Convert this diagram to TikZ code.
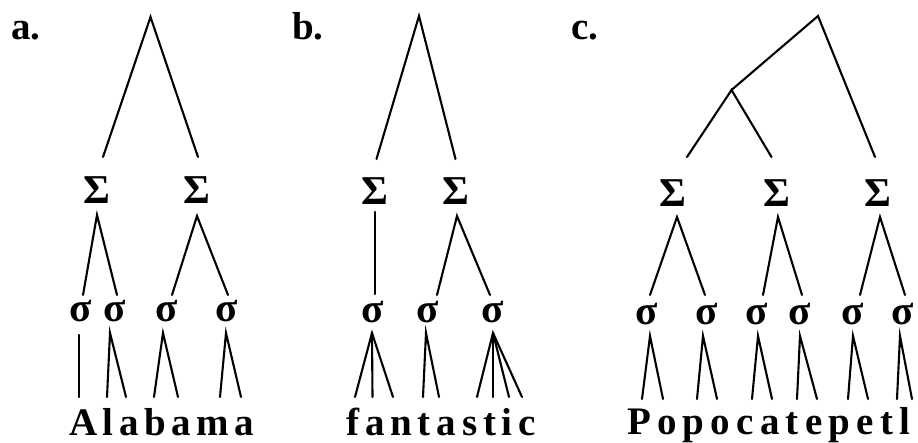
\documentclass[tikz,border=0pt]{standalone}
\usepackage{fontspec}
\setmainfont{Liberation Serif}
\newfontfamily\treefont{Liberation Serif}
\tikzset{
  br/.style={line width=2.1pt, line cap=round, line join=miter},
  sig/.style={inner sep=0pt, font=\treefont\fontsize{41}{41}\selectfont\bfseries},
  lab/.style={anchor=base west, inner sep=0pt, font=\treefont\fontsize{39}{39}\selectfont\bfseries},
  word/.style={anchor=base west, inner sep=0pt, font=\treefont\fontsize{39}{39}\selectfont\bfseries}
}
\begin{document}
\begin{tikzpicture}[x=1pt,y=-1pt]
\useasboundingbox (0,0) rectangle (918,443);
% ================= panel a =================
\node[lab] (la) at (11,40) {a.};
\coordinate (a0) at (150.5,17);
\node[sig] (aS1) at (97,190) {Σ};
\node[sig] (aS2) at (197,190) {Σ};
\coordinate (aS1n) at (103,157);
\coordinate (aS2n) at (198,157);
\draw[br] (aS1n) -- (a0) -- (aS2n);
\node[sig] (as1) at (81,311) {σ};
\node[sig] (as2) at (115,311) {σ};
\node[sig] (as3) at (167,311) {σ};
\node[sig] (as4) at (227,311) {σ};
\coordinate (aS1s) at (97,215);
\coordinate (aS2s) at (197,216);
\coordinate (as1n) at (83,295);
\coordinate (as2n) at (117,295);
\coordinate (as3n) at (172,295);
\coordinate (as4n) at (228,295);
\draw[br] (as1n) -- (aS1s) -- (as2n);
\draw[br] (as3n) -- (aS2s) -- (as4n);
\coordinate (as1s) at (79,335);
\coordinate (as2s) at (110,333);
\coordinate (as3s) at (163,333);
\coordinate (as4s) at (226,333);
\coordinate (aA) at (79,397);
\coordinate (al) at (107,397);
\coordinate (aa1) at (126,397);
\coordinate (ab) at (154,397);
\coordinate (aa2) at (178,397);
\coordinate (am) at (220,397);
\coordinate (aa3) at (241,397);
\draw[br] (as1s) -- (aA);
\draw[br] (al) -- (as2s) -- (aa1);
\draw[br] (ab) -- (as3s) -- (aa2);
\draw[br] (am) -- (as4s) -- (aa3);
\node[word] (wa) at (69,435) {\addfontfeature{LetterSpace=14}Alabama};
% ================= panel b =================
\node[lab] (lb) at (292,40) {b.};
\coordinate (b0) at (419,16);
\node[sig] (bS1) at (375,191) {Σ};
\node[sig] (bS2) at (456,191) {Σ};
\coordinate (bS1n) at (376.5,159);
\coordinate (bS2n) at (455.5,159);
\draw[br] (bS1n) -- (b0) -- (bS2n);
\node[sig] (bs1) at (373,312) {σ};
\node[sig] (bs2) at (428,312) {σ};
\node[sig] (bs3) at (493,312) {σ};
\coordinate (bS1s) at (375,212);
\coordinate (bs1n) at (375,294);
\draw[br] (bS1s) -- (bs1n);
\coordinate (bS2s) at (457,216);
\coordinate (bs2n) at (437,295);
\coordinate (bs3n) at (490,295);
\draw[br] (bs2n) -- (bS2s) -- (bs3n);
\coordinate (bs1s) at (372,333);
\coordinate (bs2s) at (426,333);
\coordinate (bs3s) at (493,333);
\coordinate (bf) at (355,397);
\coordinate (ba1) at (372.5,397);
\coordinate (bn) at (393,397);
\coordinate (bt1) at (423,397);
\coordinate (ba2) at (439,397);
\coordinate (bs) at (477,397);
\coordinate (bt2) at (493,397);
\coordinate (bi) at (509,397);
\coordinate (bc) at (522,397);
\draw[br] (bf) -- (bs1s) -- (bn);
\draw[br] (bs1s) -- (ba1);
\draw[br] (bt1) -- (bs2s) -- (ba2);
\draw[br] (bs) -- (bs3s) -- (bc);
\draw[br] (bs3s) -- (bt2);
\draw[br] (bs3s) -- (bi);
\node[word] (wb) at (346,435) {\addfontfeature{LetterSpace=15}fantastic};
% ================= panel c =================
\node[lab] (lc) at (571,40) {c.};
\coordinate (c0) at (818,16);
\coordinate (c1) at (731.5,90);
\node[sig] (cS1) at (673,193) {Σ};
\node[sig] (cS2) at (777,193) {Σ};
\node[sig] (cS3) at (878,193) {Σ};
\coordinate (cS1n) at (687,157);
\coordinate (cS2n) at (771.5,157);
\coordinate (cS3n) at (875,157);
\draw[br] (c1) -- (c0) -- (cS3n);
\draw[br] (cS1n) -- (c1) -- (cS2n);
\node[sig] (cs1) at (647,314) {σ};
\node[sig] (cs2) at (707,314) {σ};
\node[sig] (cs3) at (757,314) {σ};
\node[sig] (cs4) at (800,314) {σ};
\node[sig] (cs5) at (853,314) {σ};
\node[sig] (cs6) at (903,314) {σ};
\coordinate (cS1s) at (677,217);
\coordinate (cS2s) at (778,217);
\coordinate (cS3s) at (880,217);
\coordinate (cs1n) at (650,295);
\coordinate (cs2n) at (705,295);
\coordinate (cs3n) at (763,295);
\coordinate (cs4n) at (802,295);
\coordinate (cs5n) at (860,295);
\coordinate (cs6n) at (905,295);
\draw[br] (cs1n) -- (cS1s) -- (cs2n);
\draw[br] (cs3n) -- (cS2s) -- (cs4n);
\draw[br] (cs5n) -- (cS3s) -- (cs6n);
\coordinate (cs1s) at (650,336);
\coordinate (cs2s) at (703,336);
\coordinate (cs3s) at (758,336);
\coordinate (cs4s) at (800,336);
\coordinate (cs5s) at (853,336);
\coordinate (cs6s) at (900,336);
\coordinate (cP) at (642,399);
\coordinate (co1) at (663,399);
\coordinate (cp1) at (697,399);
\coordinate (co2) at (717,399);
\coordinate (cc) at (752,399);
\coordinate (ca) at (772,399);
\coordinate (ct1) at (797,399);
\coordinate (ce1) at (817,399);
\coordinate (cp2) at (848,399);
\coordinate (ce2) at (868,399);
\coordinate (ct2) at (897,399);
\coordinate (cl) at (912,399);
\draw[br] (cP) -- (cs1s) -- (co1);
\draw[br] (cp1) -- (cs2s) -- (co2);
\draw[br] (cc) -- (cs3s) -- (ca);
\draw[br] (ct1) -- (cs4s) -- (ce1);
\draw[br] (cp2) -- (cs5s) -- (ce2);
\draw[br] (ct2) -- (cs6s) -- (cl);
\node[word] (wc) at (627,434) {\addfontfeature{LetterSpace=16}Popocatepetl};
\end{tikzpicture}
\end{document}
